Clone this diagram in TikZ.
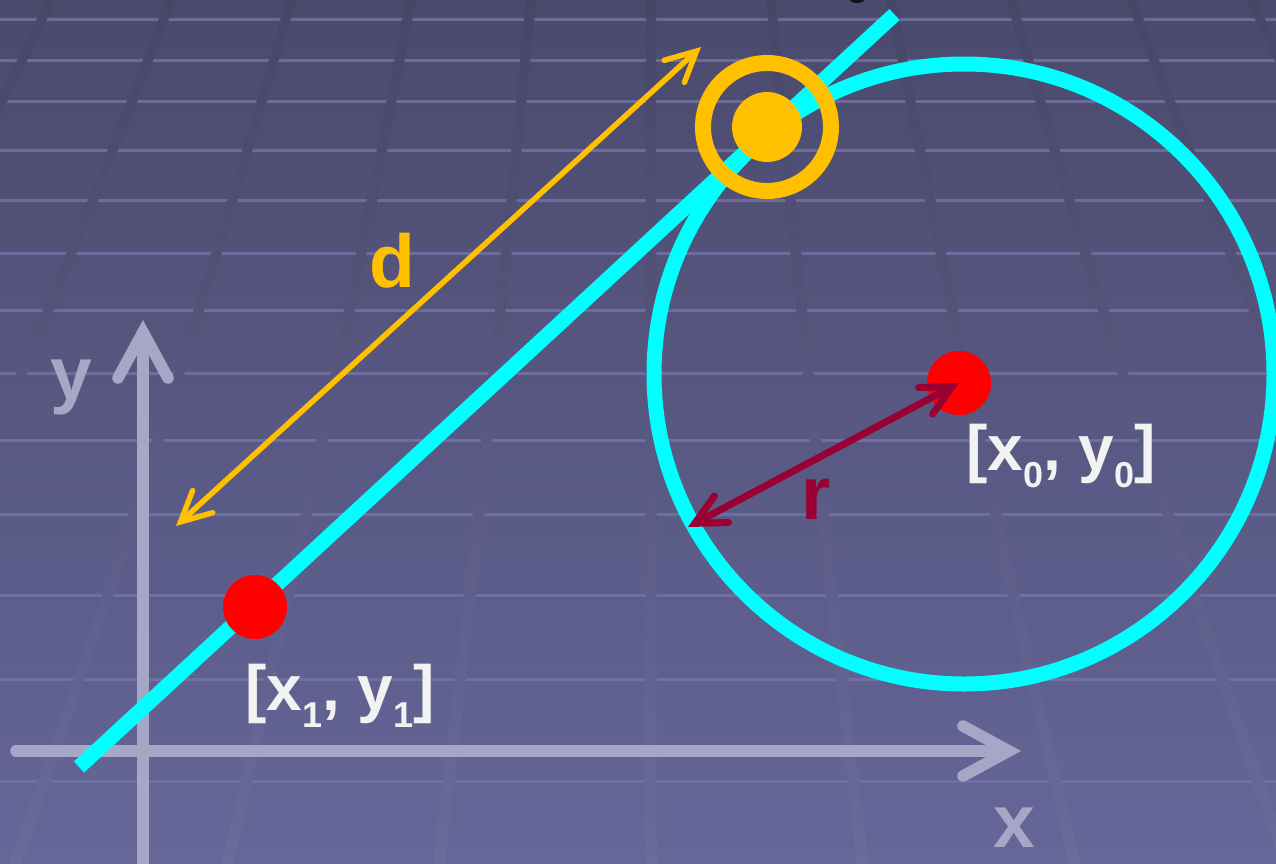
\documentclass[tikz,border=0pt]{standalone}
\usepackage{fontspec}
\setmainfont{Liberation Sans}
\usetikzlibrary{arrows.meta,calc}
\definecolor{bgtop}{RGB}{74,74,109}
\definecolor{bgbot}{RGB}{102,102,153}
\definecolor{vltop}{RGB}{70,70,103}
\definecolor{vlbot}{RGB}{107,107,156}
\definecolor{hlinec}{RGB}{116,116,166}
\definecolor{axisc}{RGB}{166,166,198}
\definecolor{cyanl}{RGB}{0,255,255}
\definecolor{goldc}{RGB}{255,192,0}
\definecolor{crimc}{RGB}{153,0,51}
\definecolor{lblc}{RGB}{242,242,242}
\newcommand\mysub[1]{\raisebox{-17pt}{\fontsize{36}{36}\selectfont #1}}
\begin{document}
\begin{tikzpicture}[x=1pt,y=-1pt,
  lab/.style={inner sep=0pt, anchor=base west},
  bigfont/.style={font=\fontsize{75}{75}\selectfont\bfseries},
  coordfont/.style={font=\fontsize{64}{64}\selectfont\bfseries},
  hline/.style={draw=hlinec, line width=3pt, opacity=0.8},
  axisline/.style={draw=axisc, line width=11.5pt, line cap=round},
  axtip/.style={-{Straight Barb[length=46pt,width=50pt,line cap=round]}},
  cyanline/.style={draw=cyanl, line width=15pt},
  reddot/.style={circle, fill=red, inner sep=0pt, minimum size=64pt},
  golddot/.style={circle, fill=goldc, inner sep=0pt, minimum size=70pt},
  dimarrow/.style={{Straight Barb[length=30pt,width=30pt,line cap=round]}-{Straight Barb[length=30pt,width=30pt,line cap=round]}, line cap=round}
]
\useasboundingbox (0,0) rectangle (1276,864);
% background
\shade[top color=bgtop, bottom color=bgbot] (0,0) rectangle (1276,864);
\foreach \yy in {20,61,102,150,200,253,310,373,440,514,595,679,781}
  \draw[hline] (0,\yy) -- (1276,\yy);
\begin{scope}
\clip \foreach \k in {-6,...,6} {
  (\k*120+651-5, 0) .. controls (\k*147.3+651-5.3, 288) and (\k*178+651-5.7, 576) .. (\k*212+651-6, 864)
  -- (\k*212+651+6, 864) .. controls (\k*178+651+5.7, 576) and (\k*147.3+651+5.3, 288) .. (\k*120+651+5, 0) -- cycle };
\shade[top color=vltop, bottom color=vlbot] (0,0) rectangle (1276,864);
\end{scope}
\fill[black!75!bgtop] (857,0) ellipse (7 and 3);

% axes
\coordinate (xstart) at (16,751);
\coordinate (xend) at (1021,751);
\coordinate (ystart) at (143,870);
\coordinate (yend) at (143,320);
\draw[axisline, axtip] (xstart) -- (xend);
\draw[axisline, axtip, line cap=butt] (ystart) -- (yend);
\node[lab, bigfont, text=axisc] (ylab) at (50,399) {y};
\node[lab, bigfont, text=axisc] (xlab) at (993,847) {x};

% circle and line
\node[circle, draw=cyanl, line width=15pt, minimum size=620pt, inner sep=0pt] (sphere) at (964,374) {};
\coordinate (lineA) at (79,767);
\coordinate (lineB) at (894.5,14.5);
\draw[cyanline] (lineA) -- (lineB);

% points
\node[reddot] (p1) at (255,607) {};
\node[reddot] (p0) at (959,383) {};
\node[circle, draw=goldc, line width=16pt, minimum size=128pt, inner sep=0pt] (ring) at (767,127) {};
\node[golddot] (hit) at (767,127) {};

% dimension arrows
\coordinate (dA) at (176,526);
\coordinate (dB) at (701,47);
\draw[dimarrow, draw=goldc, line width=5.5pt] (dA) -- (dB);
\coordinate (rA) at (688,527);
\draw[dimarrow, draw=crimc, line width=7pt] (rA) -- (p0.center);

% labels
\node[lab, bigfont, text=goldc] (dlab) at (369,287) {d};
\node[lab, bigfont, text=crimc] (rlab) at (801,519) {r};
\node[lab, coordfont, text=lblc] (p1lab) at (245,710) {[x\mysub{1}, y\mysub{1}]};
\node[lab, coordfont, text=lblc] (p0lab) at (966,470) {[x\mysub{0}, y\mysub{0}]};
\end{tikzpicture}
\end{document}
